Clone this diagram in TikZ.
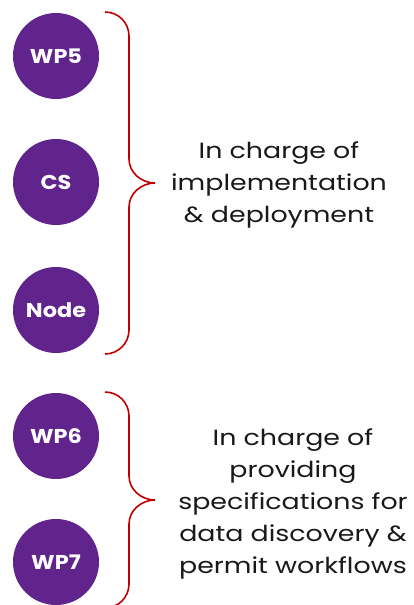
\documentclass[tikz,border=0pt]{standalone}
\usepackage{fontspec}
\setmainfont{Poppins}
\newfontfamily\chargeFont[FakeStretch=1.22]{Poppins}
\newfontfamily\wpFont[FakeStretch=1.12]{Poppins}
\usepackage{tikz}
\definecolor{wpPurple}{RGB}{97,35,140}
\definecolor{braceRed}{RGB}{192,0,0}
\tikzset{
  wpCircle/.style={circle, fill=wpPurple, minimum size=86pt, inner sep=0pt, text=white, font=\wpFont\bfseries\fontsize{20}{22}\selectfont},
  chargeText/.style={align=center, text=black!90, font=\chargeFont\fontsize{22}{32}\selectfont},
  braceLine/.style={draw=braceRed, line width=1.6pt}
}
% curly brace at x=105 from #1 (top) to #2 (bottom)
\newcommand{\curlyBrace}[2]{%
  \draw[braceLine] (105,#1) .. controls (118.3,#1) and (129,#1+10.7) .. (129,#1+24)
    -- (129,{(#1+#2)/2-24}) .. controls (129,{(#1+#2)/2-10.7}) and (141,{(#1+#2)/2}) .. (155,{(#1+#2)/2})
    .. controls (141,{(#1+#2)/2}) and (129,{(#1+#2)/2+10.7}) .. (129,{(#1+#2)/2+24})
    -- (129,#2-24) .. controls (129,#2-10.7) and (118.3,#2) .. (105,#2);}

\begin{document}
\begin{tikzpicture}[x=1pt,y=-1pt]
\useasboundingbox (0,0) rectangle (413,605);

%work packages
\node[wpCircle] (wpFive)   at (56, 56) {WP5};
\node[wpCircle] (cs)       at (56,182) {CS};
\node[wpCircle] (nodeSite) at (56,310) {Node};
\node[wpCircle] (wpSix)    at (56,436) {WP6};
\node[wpCircle] (wpSeven)  at (56,562) {WP7};

%braces
\curlyBrace{12}{354}
\curlyBrace{392}{608}

%roles
\node[chargeText] (implementationText) at (279,185) {In charge of\\implementation\\\& deployment};
\node[chargeText] (specificationText)  at (293,504) {In charge of\\providing\\specifications for\\data discovery \&\\permit workflows};
\end{tikzpicture}
\end{document}
